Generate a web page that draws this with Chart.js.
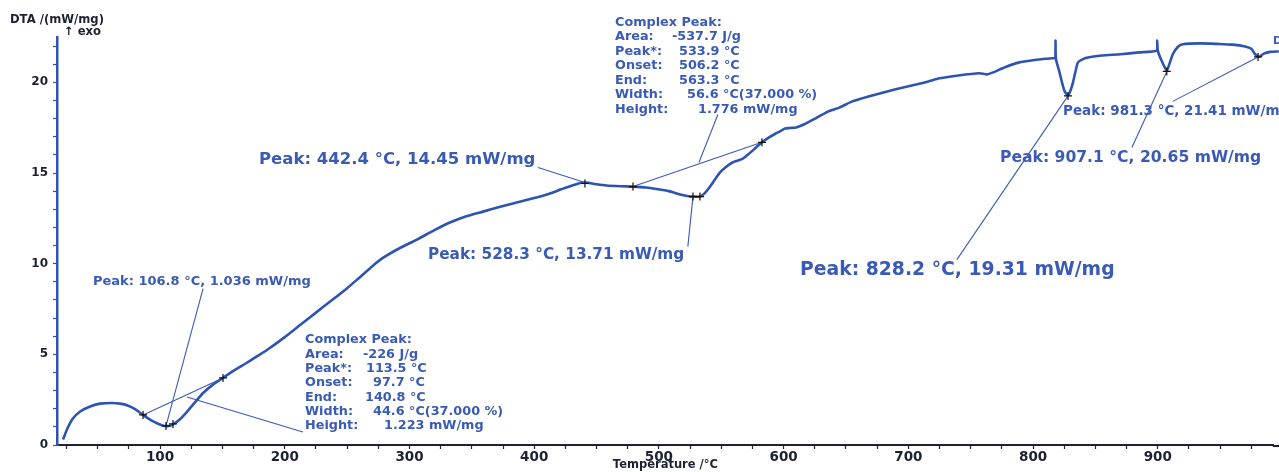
<!DOCTYPE html>
<html>
<head>
<meta charset="utf-8">
<script src="https://cdn.jsdelivr.net/npm/chart.js@4.4.0/dist/chart.umd.min.js"></script>
<style>
  html, body { margin: 0; padding: 0; background: #fff; }
</style>
</head>
<body>
<canvas id="dtaChart" width="1279" height="472"></canvas>
<script>
// --- DATA ---
const temps = [22.2, 26, 30, 36, 44, 52, 61.5, 68, 74, 80, 86.4, 92, 97.6, 102, 105, 108, 111, 116, 121.6, 128,
    134.5, 142, 150.5, 160, 170, 178, 186, 200, 212, 225, 239, 250, 258, 270, 279, 292, 306, 320, 332.5, 345, 359,
    372, 386, 400, 405, 415, 421, 430, 437, 442, 450, 458, 470, 479, 490, 498, 508, 517, 524, 528, 533,
    537, 541, 545, 549, 554, 559, 563, 567, 572, 577, 582.6, 588, 593, 597, 601, 605, 610, 617, 627, 636,
    645, 655, 668, 683, 695, 707, 716, 725, 740, 757, 763, 768, 778, 789, 800, 810, 816, 817.8, 818, 818.3,
    821, 825, 828, 830, 832, 834, 836, 840, 845, 855, 870, 885, 899, 899.5, 900, 903, 907.1, 909, 912, 916,
    920, 934, 948, 960, 970, 975, 978, 981.3, 985, 990, 997];
const dta = [0.30, 0.95, 1.45, 1.85, 2.12, 2.28, 2.32, 2.28, 2.18, 1.98, 1.66, 1.40, 1.20, 1.08, 1.04, 1.06, 1.16, 1.42, 1.83, 2.35,
    2.87, 3.30, 3.70, 4.14, 4.55, 4.90, 5.25, 5.95, 6.60, 7.30, 8.05, 8.65, 9.12, 9.85, 10.33, 10.85, 11.33, 11.85, 12.27, 12.60, 12.87,
    13.12, 13.37, 13.62, 13.70, 13.92, 14.09, 14.30, 14.45, 14.47, 14.38, 14.31, 14.27, 14.25, 14.20, 14.12, 14.00, 13.82, 13.72, 13.70, 13.70,
    13.90, 14.25, 14.65, 15.03, 15.35, 15.58, 15.68, 15.78, 16.05, 16.35, 16.69, 16.95, 17.15, 17.29, 17.45, 17.48, 17.51, 17.70, 18.07, 18.40,
    18.62, 18.95, 19.22, 19.50, 19.70, 19.89, 20.05, 20.22, 20.38, 20.50, 20.44, 20.55, 20.85, 21.10, 21.22, 21.30, 21.33, 21.35, 22.30, 21.30,
    20.60, 19.55, 19.28, 19.55, 20.00, 20.60, 21.10, 21.28, 21.38, 21.48, 21.55, 21.65, 21.75, 22.30, 21.75, 21.20, 20.65, 20.95, 21.55, 21.95,
    22.10, 22.15, 22.12, 22.08, 21.98, 21.85, 21.55, 21.41, 21.58, 21.68, 21.70];

// evaluation markers (+)
const markT = [86.4, 104.8, 110.4, 150.5, 440.7, 479.2, 527.3, 532.9, 582.6, 828.0, 907.2, 980.4];
const markV = [1.66, 1.05, 1.16, 3.70, 14.42, 14.25, 13.70, 13.70, 16.69, 19.25, 20.60, 21.40];

// baselines and label pointers, in data units [t1, v1, t2, v2]
const guideLines = [
    [86.4, 1.66, 150.5, 3.70],
    [121.6, 2.65, 214.6, 0.72],
    [104.8, 1.05, 134.5, 8.62],
    [403.0, 15.30, 440.7, 14.48],
    [479.2, 14.25, 582.6, 16.69],
    [532.1, 15.58, 547.3, 18.23],
    [527.3, 13.70, 523.2, 10.94],
    [828.0, 19.25, 738.9, 10.22],
    [907.2, 20.60, 879.2, 16.41],
    [980.4, 21.40, 912.0, 18.95]
];

const xTickLabels = [100, 200, 300, 400, 500, 600, 700, 800, 900];
const yTickLabels = [0, 5, 10, 15, 20];
// minor ticks every 25 °C and every 1 mW/mg
const xTickValues = [];
for (let t = 25; t <= 975; t += 25) xTickValues.push(t);
const yTickValues = [];
for (let v = 0; v <= 22; v += 1) yTickValues.push(v);

const peakNotes = [
    { text: 'Peak: 106.8 °C, 1.036 mW/mg', x: 93, y: 282, size: 13 },
    { text: 'Peak: 442.4 °C, 14.45 mW/mg', x: 259, y: 160, size: 16.5 },
    { text: 'Peak: 528.3 °C, 13.71 mW/mg', x: 428, y: 255, size: 15.3 },
    { text: 'Peak: 828.2 °C, 19.31 mW/mg', x: 800, y: 270, size: 18.8 },
    { text: 'Peak: 907.1 °C, 20.65 mW/mg', x: 1000, y: 158, size: 15.6 },
    { text: 'Peak: 981.3 °C, 21.41 mW/mg', x: 1063, y: 111, size: 13.5 }
];

const complexBlocks = [
    { x: 305, y: 340, step: 14.33, rows: [
        ['Complex Peak:'], ['Area:', '-226 J/g', 363], ['Peak*:', '113.5 °C', 366], ['Onset:', '97.7 °C', 373],
        ['End:', '140.8 °C', 365], ['Width:', '44.6 °C(37.000 %)', 373], ['Height:', '1.223 mW/mg', 384]] },
    { x: 615, y: 22.5, step: 14.5, rows: [
        ['Complex Peak:'], ['Area:', '-537.7 J/g', 672], ['Peak*:', '533.9 °C', 679], ['Onset:', '506.2 °C', 679],
        ['End:', '563.3 °C', 679], ['Width:', '56.6 °C(37.000 %)', 687], ['Height:', '1.776 mW/mg', 698]] }
];

const FONT = '"DejaVu Sans", sans-serif';
const CURVE_BLUE = '#2d54b2';
const TEXT_BLUE = '#3a5bb5';
const DARK = '#1d2233';

const notesPlugin = {
    id: 'notes',
    afterDraw(chart) {
        const ctx = chart.ctx;
        const area = chart.chartArea;
        ctx.save();

        // x axis line runs on to the right edge of the picture
        ctx.strokeStyle = DARK;
        ctx.lineWidth = 2;
        ctx.beginPath();
        ctx.moveTo(area.right - 1, area.bottom + 1);
        ctx.lineTo(chart.width, area.bottom + 1);
        ctx.stroke();

        ctx.textBaseline = 'middle';
        ctx.textAlign = 'left';

        ctx.fillStyle = DARK;
        ctx.font = `bold 11.6px ${FONT}`;
        ctx.fillText('DTA /(mW/mg)', 10, 20);
        ctx.fillText('↑ exo', 64, 32);

        ctx.fillStyle = TEXT_BLUE;
        peakNotes.forEach(n => {
            ctx.font = `bold ${n.size}px ${FONT}`;
            ctx.fillText(n.text, n.x, n.y);
        });

        ctx.font = `bold 12.8px ${FONT}`;
        complexBlocks.forEach(b => {
            b.rows.forEach((r, i) => {
                const y = b.y + i * b.step;
                ctx.fillText(r[0], b.x, y);
                if (r[1]) ctx.fillText(r[1], r[2], y);
            });
        });

        ctx.font = `bold 11px ${FONT}`;
        ctx.fillText('D', 1273, 41);
        ctx.restore();
    }
};

const toPoints = (xs, ys) => xs.map((x, i) => ({ x: x, y: ys[i] }));

const datasets = [{
    data: toPoints(temps, dta),
    showLine: true,
    borderColor: CURVE_BLUE,
    borderWidth: 2.6,
    pointRadius: 0,
    tension: 0.2,
    clip: { left: 0, top: 5, right: 8, bottom: 0 },
    order: 2
}];

guideLines.forEach(g => {
    datasets.push({
        data: [{ x: g[0], y: g[1] }, { x: g[2], y: g[3] }],
        showLine: true,
        borderColor: TEXT_BLUE,
        borderWidth: 1.1,
        pointRadius: 0,
        order: 3
    });
});

datasets.push({
    data: toPoints(markT, markV),
    showLine: false,
    pointStyle: 'cross',
    pointRadius: 4,
    borderColor: '#111',
    borderWidth: 1.2,
    clip: 8,
    order: 1
});

new Chart(document.getElementById('dtaChart'), {
    type: 'scatter',
    data: { datasets: datasets },
    options: {
        responsive: false,
        animation: false,
        layout: { padding: { top: 37, right: 0, bottom: 0, left: 0 } },
        plugins: { legend: { display: false }, tooltip: { enabled: false } },
        scales: {
            x: {
                type: 'linear',
                min: 17.4,
                max: 993,
                afterBuildTicks: s => { s.ticks = xTickValues.map(v => ({ value: v })); },
                afterFit: s => { s.height = 27; },
                border: { color: DARK, width: 2 },
                grid: { drawOnChartArea: false, tickLength: 4, tickColor: DARK, tickWidth: 1.2 },
                ticks: {
                    autoSkip: false,
                    maxRotation: 0,
                    padding: 0,
                    color: DARK,
                    font: { family: FONT, size: 13.5, weight: 'bold' },
                    callback: v => xTickLabels.includes(v) ? String(v) : ''
                },
                title: {
                    display: true,
                    text: 'Temperature /°C',
                    color: DARK,
                    padding: { top: 0, bottom: 0 },
                    font: { family: FONT, size: 11.5, weight: 'bold' }
                }
            },
            y: {
                min: 0,
                max: 22.5,
                afterBuildTicks: s => { s.ticks = yTickValues.map(v => ({ value: v })); },
                afterFit: s => { s.width = 57; },
                border: { color: CURVE_BLUE, width: 2.5 },
                grid: { drawOnChartArea: false, tickLength: 4, tickColor: CURVE_BLUE, tickWidth: 1.2 },
                ticks: {
                    autoSkip: false,
                    padding: 5,
                    color: DARK,
                    font: { family: FONT, size: 12, weight: 'bold' },
                    callback: v => yTickLabels.includes(v) ? String(v) : ''
                }
            }
        }
    },
    plugins: [notesPlugin]
});
</script>
</body>
</html>
